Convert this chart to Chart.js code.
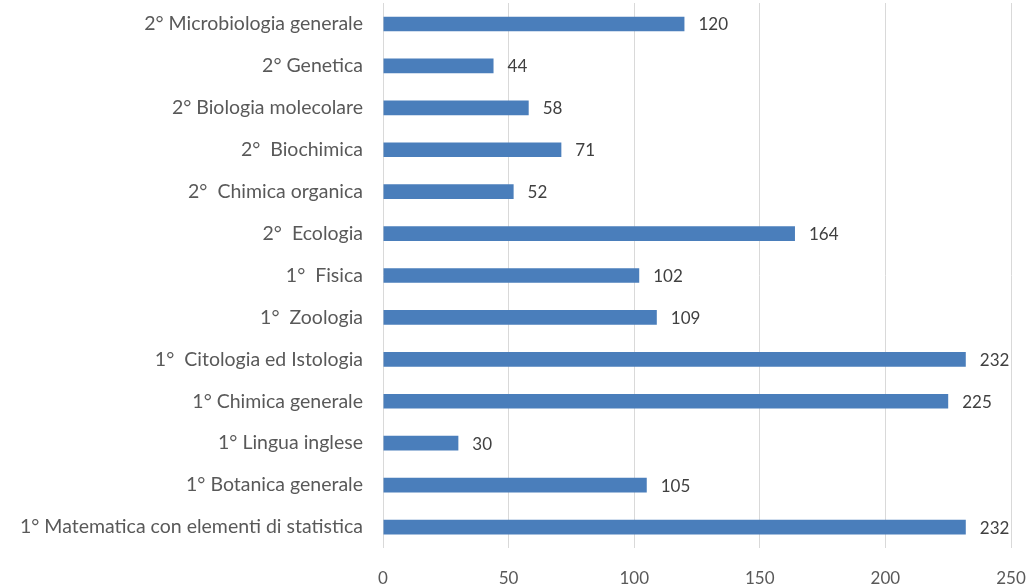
<!DOCTYPE html>
<html>
<head>
<meta charset="utf-8">
<script src="https://cdn.jsdelivr.net/npm/chart.js@4"></script>
<style>
  html, body { margin: 0; padding: 0; background: #fff; }
  #wrap { width: 1027px; height: 586px; }
</style>
</head>
<body>
<div id="wrap"><canvas id="corsi-chart" width="1027" height="586"></canvas></div>
<script>
const corsi = [
  "2° Microbiologia generale",
  "2° Genetica",
  "2° Biologia molecolare",
  "2°  Biochimica",
  "2°  Chimica organica",
  "2°  Ecologia",
  "1°  Fisica",
  "1°  Zoologia",
  "1°  Citologia ed Istologia",
  "1° Chimica generale",
  "1° Lingua inglese",
  "1° Botanica generale",
  "1° Matematica con elementi di statistica",
];
const valori = [120, 44, 58, 71, 52, 164, 102, 109, 232, 225, 30, 105, 232];
const xMax = 250;
const xStep = 50;

// numbers next to the end of each bar
const valueLabels = {
  id: "valueLabels",
  afterDatasetsDraw(chart) {
    const c = chart.ctx;
    const meta = chart.getDatasetMeta(0);
    c.save();
    c.font = "17px Lato";
    c.fillStyle = "#404040";
    c.textAlign = "left";
    c.textBaseline = "middle";
    meta.data.forEach((bar, i) => {
      c.fillText(String(valori[i]), bar.x + 14, bar.y + 1);
    });
    c.restore();
  },
};

const ctx = document.getElementById("corsi-chart").getContext("2d");
const chart = new Chart(ctx, {
  type: "bar",
  data: {
    labels: corsi,
    datasets: [
      {
        data: valori,
        backgroundColor: "#4A7EBB",
        borderWidth: 0,
        categoryPercentage: 1,
        barPercentage: 0.35,
      },
    ],
  },
  options: {
    indexAxis: "y",
    responsive: false,
    animation: false,
    layout: { padding: { top: 3, right: 16, left: 0, bottom: 0 } },
    plugins: {
      legend: { display: false },
      tooltip: { enabled: false },
    },
    scales: {
      x: {
        min: 0,
        max: xMax,
        ticks: {
          stepSize: xStep,
          color: "#595959",
          font: { family: "Lato", size: 17, lineHeight: 1 },
          padding: 22,
        },
        grid: { color: "#d9d9d9", drawTicks: false },
        border: { display: false },
        afterFit(scale) {
          scale.height = 38;
          scale.paddingLeft = 0;
          scale.paddingRight = 0;
          scale.paddingTop = 0;
          scale.paddingBottom = 0;
        },
      },
      y: {
        ticks: {
          color: "#595959",
          font: { family: "Lato", size: 19.5 },
          padding: 20,
        },
        grid: { display: false, drawTicks: false },
        border: { display: false },
        afterFit(scale) {
          scale.width = 383;
          scale.paddingTop = 0;
          scale.paddingBottom = 0;
        },
      },
    },
  },
  plugins: [valueLabels],
});
</script>
</body>
</html>
